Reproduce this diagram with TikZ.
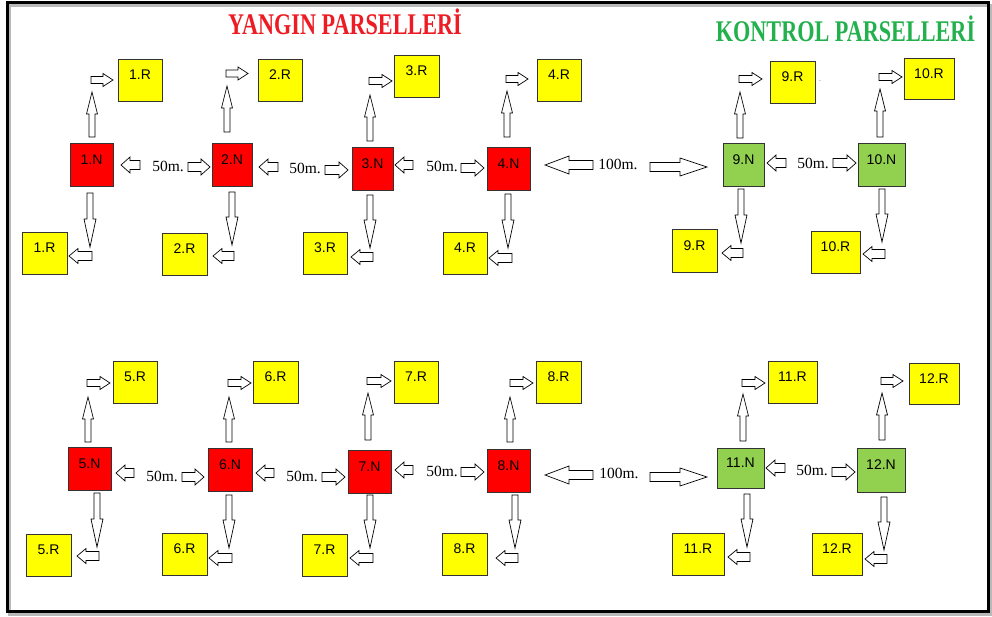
\documentclass[tikz,border=0pt]{standalone}
\usepackage{fontspec}
\setmainfont{Liberation Serif}
\newfontfamily\boxfont{Liberation Sans}
\newfontfamily\titlefont[FakeStretch=0.74]{Liberation Serif}
\usetikzlibrary{calc}

\definecolor{nred}{RGB}{255,0,0}
\definecolor{ryellow}{RGB}{255,255,0}
\definecolor{kgreen}{RGB}{146,208,80}
\definecolor{tred}{RGB}{237,28,36}
\definecolor{tgreen}{RGB}{34,177,76}

\tikzset{
  box/.style={draw=black!80, line width=0.9pt, minimum width=44pt, minimum height=42pt,
    inner sep=0pt, font=\boxfont\fontsize{14}{14}\selectfont, text depth=10pt},
  nbox/.style={box, fill=nred},
  gbox/.style={box, fill=kgreen},
  rbox/.style={box, fill=ryellow},
  dist/.style={font=\fontsize{15.5}{15.5}\selectfont, inner sep=0pt},
  arrowbody/.style={draw=black, fill=white, line width=0.7pt, line join=miter},
}

% block arrow: tail, tip, shaft half-width, head half-width, head length (all in pt)
\newcommand{\blockarrow}[5]{%
  \coordinate (ba-b) at ($(#2)!#5pt!(#1)$);
  \draw[arrowbody] ($(#1)!#3pt!90:(#2)$) -- ($(ba-b)!#3pt!90:(#2)$)
    -- ($(ba-b)!#4pt!90:(#2)$) -- (#2) -- ($(ba-b)!#4pt!-90:(#2)$)
    -- ($(ba-b)!#3pt!-90:(#2)$) -- ($(#1)!#3pt!-90:(#2)$) -- cycle;}
\newcommand{\uparr}[2]{\blockarrow{#1}{#2}{3}{5.5}{22}}
\newcommand{\downarr}[2]{\blockarrow{#1}{#2}{3}{6}{28}}
\newcommand{\toparr}[2]{\blockarrow{#1}{#2}{3.5}{6.5}{10}}
\newcommand{\botarr}[2]{\blockarrow{#1}{#2}{4.5}{7.5}{9}}
\newcommand{\midarr}[2]{\blockarrow{#1}{#2}{4.5}{8}{9}}
\newcommand{\bigarr}[3]{\blockarrow{#1}{#2}{4.5}{9}{#3}}

\begin{document}
\begin{tikzpicture}[x=1pt,y=-1pt]
\useasboundingbox (0,0) rectangle (992,617);
\fill[white] (0,0) rectangle (992,617);

% frame with shadow
\draw[gray!55, line width=3pt] (9.5,5.5) rectangle (990.5,614);
\draw[black, line width=3pt] (7.5,3) rectangle (988.5,611.5);

% titles
\node[anchor=base, inner sep=0pt, text=tred, font=\titlefont\bfseries\fontsize{30}{30}\selectfont] (title1) at (345,35) {YANGIN PARSELLERİ};
\node[anchor=base, inner sep=0pt, text=tgreen, font=\titlefont\bfseries\fontsize{30}{30}\selectfont] (title2) at (845.5,42) {KONTROL PARSELLERİ};

% ---------- upper row ----------
\node[nbox, minimum width=43pt, minimum height=43pt] (n1) at (91.5,164.5) {1.N};
\node[rbox] (r1a) at (140,80) {1.R};
\node[rbox, minimum width=45pt] (r1b) at (44.5,253) {1.R};
\uparr{92,137}{92,92} \toparr{91,80}{113,80}
\downarr{90,193}{90,247} \botarr{92,256}{69,256}

\node[nbox, minimum width=40pt, minimum height=43pt] (n2) at (232,164.5) {2.N};
\node[rbox] (r2a) at (280,80) {2.R};
\node[rbox, minimum width=45pt] (r2b) at (184.5,254) {2.R};
\uparr{227,132}{227,86} \toparr{226,73.5}{248,73.5}
\downarr{232,192}{232,245} \botarr{234,256}{213,256}

\node[nbox, minimum width=41pt, minimum height=43pt] (n3) at (372.5,168.5) {3.N};
\node[rbox, minimum width=45pt] (r3a) at (416.5,76) {3.R};
\node[rbox] (r3b) at (325,253) {3.R};
\uparr{370,141}{370,95} \toparr{369,81}{392,81}
\downarr{370,195}{370,248} \botarr{373,257}{351,257}

\node[nbox, minimum width=43pt, minimum height=43pt] (n4) at (508.5,168.5) {4.N};
\node[rbox] (r4a) at (559,80) {4.R};
\node[rbox] (r4b) at (465,253) {4.R};
\uparr{507,137}{507,91} \toparr{506,79}{528,79}
\downarr{508,194}{508,248} \botarr{512,258}{489,258}

\node[gbox, minimum width=41pt, minimum height=43pt] (n9) at (743.5,164.5) {9.N};
\node[rbox, minimum width=45pt] (r9a) at (792.5,82) {9.R};
\node[rbox, minimum width=45pt, minimum height=43pt] (r9b) at (694.5,250.5) {9.R};
\node[inner sep=0pt, text=gray, font=\boxfont\fontsize{8}{8}\selectfont] (dot) at (820,81) {.};
\uparr{740,138}{740,92} \toparr{739,79}{762,79}
\downarr{741,189}{741,243} \botarr{743,253}{722,253}

\node[gbox, minimum width=47pt, minimum height=43pt] (n10) at (881.5,164.5) {10.N};
\node[rbox, minimum width=50pt, minimum height=41pt] (r10a) at (929,78.5) {10.R};
\node[rbox, minimum width=49pt] (r10b) at (835.5,252) {10.R};
\uparr{880,137}{880,89} \toparr{879,77}{902,77}
\downarr{882,189}{882,242} \botarr{885,254}{863,254}

% distances, upper row
\midarr{140,165}{121,165} \node[dist] (d12) at (168,166) {50m.}; \midarr{188,167}{210,167}
\midarr{278,167}{259,167} \node[dist] (d23) at (305,168) {50m.}; \midarr{325,170}{348,170}
\midarr{413,165}{395,165} \node[dist] (d34) at (442,166) {50m.}; \midarr{461,168}{484,168}
\bigarr{593,165}{545,165}{24} \node[dist] (d49) at (618,164) {100m.}; \bigarr{650,167}{707,167}{27}
\midarr{786,163}{767,163} \node[dist] (d910) at (813,163) {50m.}; \midarr{833,163}{856,163}

% ---------- lower row ----------
\node[nbox, minimum width=43pt, minimum height=43pt] (n5) at (89.5,468.5) {5.N};
\node[rbox] (r5a) at (135,382) {5.R};
\node[rbox, minimum width=45pt] (r5b) at (48.5,555) {5.R};
\uparr{88,442}{88,397} \toparr{87,383}{110,383}
\downarr{97,493}{97,547} \botarr{99,556}{77,556}

\node[nbox, minimum width=44pt, minimum height=43pt] (n6) at (230,469.5) {6.N};
\node[rbox, minimum width=45pt] (r6a) at (275.5,382) {6.R};
\node[rbox, minimum width=45pt] (r6b) at (184.5,554) {6.R};
\uparr{229,442}{229,397} \toparr{228,383}{251,383}
\downarr{229,495}{229,548} \botarr{232,558}{209,558}

\node[nbox, minimum width=43pt, minimum height=43pt] (n7) at (369.5,471.5) {7.N};
\node[rbox] (r7a) at (416,382) {7.R};
\node[rbox, minimum width=45pt] (r7b) at (324.5,555) {7.R};
\uparr{368,440}{368,393} \toparr{367,381}{391,381}
\downarr{370,495}{370,548} \botarr{373,558}{350,558}

\node[nbox, minimum width=43pt, minimum height=43pt] (n8) at (508.5,470.5) {8.N};
\node[rbox, minimum width=45pt] (r8a) at (558.5,382) {8.R};
\node[rbox, minimum width=45pt] (r8b) at (464.5,554) {8.R};
\uparr{510,442}{510,397} \toparr{510,383}{533,383}
\downarr{515,495}{515,548} \botarr{518,558}{496,558}

\node[gbox, minimum width=47pt, minimum height=40pt] (n11) at (740.5,468) {11.N};
\node[rbox, minimum width=49pt] (r11a) at (792.5,382) {11.R};
\node[rbox, minimum width=52pt] (r11b) at (698,554) {11.R};
\uparr{743,441}{743,394} \toparr{742,383}{765,383}
\downarr{747,494}{747,547} \botarr{750,557}{728,557}

\node[gbox, minimum width=48pt, minimum height=44pt] (n12) at (881,470) {12.N};
\node[rbox, minimum width=50pt, minimum height=41pt] (r12a) at (934,383.5) {12.R};
\node[rbox, minimum width=50pt] (r12b) at (837,554) {12.R};
\uparr{882,440}{882,393} \toparr{881,381}{903,381}
\downarr{884,497}{884,550} \botarr{887,559}{865,559}

% distances, lower row
\midarr{134,473}{116,473} \node[dist] (d56) at (162,476) {50m.}; \midarr{182,477}{204,477}
\midarr{274,473}{256,473} \node[dist] (d67) at (302,476) {50m.}; \midarr{322,477}{345,477}
\midarr{413,470}{395,470} \node[dist] (d78) at (442,471) {50m.}; \midarr{461,472}{484,472}
\bigarr{593,475}{545,475}{24} \node[dist] (d811) at (619,473) {100m.}; \bigarr{650,477}{707,477}{27}
\midarr{785,468}{766,468} \node[dist] (d1112) at (812,470) {50m.}; \midarr{832,472}{855,472}
\end{tikzpicture}
\end{document}
